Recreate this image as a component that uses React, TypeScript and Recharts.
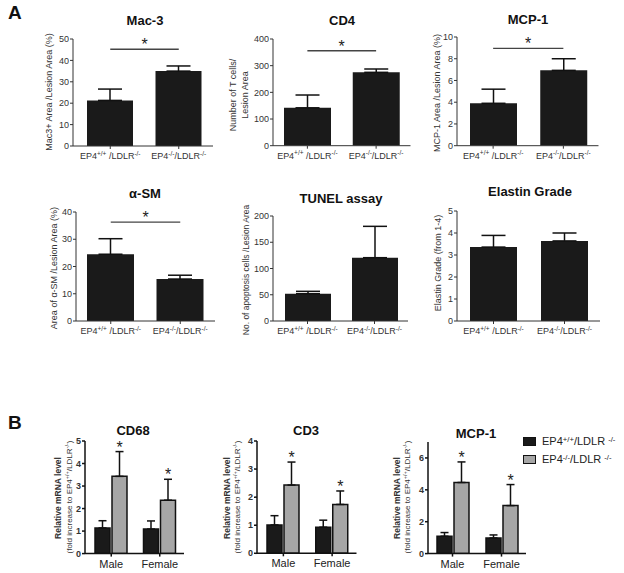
import React from 'react';
import { BarChart, Bar, XAxis, YAxis, ErrorBar, ReferenceLine, LabelList } from 'recharts';

const FONT = '"Liberation Sans", Arial, Helvetica, sans-serif';

// ---------- Panel A data ----------
const genotypes = ['EP4+/+ /LDLR-/-', 'EP4-/-/LDLR-/-'];
const genoSup1 = ['+/+', '-/-'];
const genoMid = [' /LDLR', '/LDLR'];
const genoSup2 = ['-/-', '-/-'];

const mac3Mean = [21.3, 35.0];
const mac3Err = [5.3, 2.4];
const cd4Mean = [142, 275];
const cd4Err = [48, 12.5];
const mcp1Mean = [3.9, 6.93];
const mcp1Err = [1.3, 1.07];
const asmMean = [24.5, 15.4];
const asmErr = [5.7, 1.4];
const tunelMean = [52, 120.6];
const tunelErr = [4.5, 59.7];
const elastinMean = [3.36, 3.64];
const elastinErr = [0.53, 0.36];

// ---------- Panel B data ----------
const sexes = ['Male', 'Female'];
const cd68WT = [1.14, 1.09];
const cd68WTErr = [0.32, 0.36];
const cd68KO = [3.43, 2.37];
const cd68KOErr = [1.1, 0.93];
const cd3WT = [1.01, 0.93];
const cd3WTErr = [0.33, 0.25];
const cd3KO = [2.43, 1.74];
const cd3KOErr = [0.82, 0.48];
const mcpWT = [1.09, 0.98];
const mcpWTErr = [0.23, 0.19];
const mcpKO = [4.46, 3.01];
const mcpKOErr = [1.29, 1.32];

const buildA = (mean: number[], err: number[]) =>
  genotypes.map((g, i) => ({ name: g, mean: mean[i], err: [0, err[i]] }));

const buildB = (wt: number[], wtErr: number[], ko: number[], koErr: number[]) =>
  sexes.map((s, i) => ({ name: s, wt: wt[i], wtErr: [0, wtErr[i]], ko: ko[i], koErr: [0, koErr[i]] }));

const GenoTick = (props: any) => {
  const { x, y, payload } = props;
  const i = genotypes.indexOf(payload.value);
  return (
    <text x={x} y={y + 8} textAnchor="middle" fontSize={9} fill="#333" fontFamily={FONT}>
      <tspan>EP4</tspan>
      <tspan dy={-3.5} fontSize={6.5}>{genoSup1[i]}</tspan>
      <tspan dy={3.5}>{genoMid[i]}</tspan>
      <tspan dy={-3.5} fontSize={6.5}>{genoSup2[i]}</tspan>
    </text>
  );
};

const SexTick = (props: any) => {
  const { x, y, payload } = props;
  return (
    <text x={x} y={y + 9} textAnchor="middle" fontSize={11} fill="#222" fontFamily={FONT}>
      {payload.value}
    </text>
  );
};

const SigStar = (props: any) => {
  const vb = props.viewBox || {};
  return (
    <text x={vb.x + (vb.width || 0) / 2} y={vb.y + 1} textAnchor="middle" fontSize={16} fill="#222" fontFamily={FONT}>
      *
    </text>
  );
};

const makeBarStar = (means: number[], errs: number[]) => (props: any) => {
  const vb = props.viewBox && props.viewBox.width !== undefined ? props.viewBox : props;
  const { x, y, width, height } = vb;
  let i = props.index;
  if (i === undefined) i = means.indexOf(props.value);
  if (i < 0 || i === undefined) return null;
  const px = height / means[i];
  const capY = y - errs[i] * px;
  return (
    <text key={'s' + i} x={x + width / 2} y={capY + 1} textAnchor="middle" fontSize={16} fill="#222" fontFamily={FONT}>
      *
    </text>
  );
};

type Series = { key: string; errKey: string; fill: string; stroke?: string; star?: (p: any) => any };

type PanelDef = {
  x0: number; x1: number; top: number; bottom: number; padLeft: number;
  data: any[]; domain: [number, number]; ticks: number[];
  series: Series[]; barSize: number; barGap?: number; errW: number;
  tick: (p: any) => any; bold?: boolean; axisW: number; sigY?: number;
};

const YW = 40;
const MT = 10;
const MR = 6;
const XH = 24;

function Panel(p: PanelDef) {
  const W = p.x1 - p.x0 + YW + MR;
  const H = p.bottom - p.top + MT + XH;
  const axisStroke = p.bold ? '#111' : '#333';
  return (
    <div style={{ position: 'absolute', left: p.x0 - YW, top: p.top - MT, width: W, height: H }}>
      <BarChart width={W} height={H} data={p.data} margin={{ top: MT, right: MR, bottom: 0, left: 0 }} barGap={p.barGap ?? 4}>
        <XAxis
          dataKey="name"
          height={XH}
          tick={p.tick}
          tickSize={3}
          interval={0}
          padding={{ left: p.padLeft, right: 0 }}
          axisLine={{ stroke: axisStroke, strokeWidth: p.axisW }}
          tickLine={{ stroke: axisStroke, strokeWidth: p.axisW }}
        />
        <YAxis
          width={YW}
          type="number"
          domain={p.domain}
          ticks={p.ticks}
          interval={0}
          allowDataOverflow
          tickSize={3}
          tickMargin={1}
          tick={{ fontSize: 9, fill: '#333', fontWeight: p.bold ? 'bold' : 'normal', fontFamily: FONT }}
          axisLine={{ stroke: axisStroke, strokeWidth: p.axisW }}
          tickLine={{ stroke: axisStroke, strokeWidth: p.axisW }}
        />
        {p.series.map((s) => (
          <Bar
            key={s.key}
            dataKey={s.key}
            fill={s.fill}
            stroke={s.stroke}
            strokeWidth={s.stroke ? 1.5 : 0}
            barSize={p.barSize}
            isAnimationActive={false}
          >
            <ErrorBar dataKey={s.errKey} width={p.errW} stroke="#111" strokeWidth={1.5} direction="y" />
            {s.star ? <LabelList dataKey={s.key} content={s.star} /> : null}
          </Bar>
        ))}
        {p.sigY !== undefined ? (
          <ReferenceLine
            segment={[{ x: genotypes[0], y: p.sigY }, { x: genotypes[1], y: p.sigY }]}
            stroke="#444"
            strokeWidth={1.3}
            label={<SigStar />}
          />
        ) : null}
      </BarChart>
    </div>
  );
}

const Title = ({ x, y, text }: { x: number; y: number; text: string }) => (
  <div style={{ position: 'absolute', left: x, top: y, transform: 'translate(-50%,-50%)', fontSize: 13, fontWeight: 'bold', color: '#111', whiteSpace: 'nowrap', fontFamily: FONT }}>
    {text}
  </div>
);

const VLabel = ({ x, y, size, bold, children }: { x: number; y: number; size: number; bold?: boolean; children: any }) => (
  <div style={{ position: 'absolute', left: x, top: y, transform: 'translate(-50%,-50%) rotate(-90deg)', fontSize: size, fontWeight: bold ? 'bold' : 'normal', color: '#333', whiteSpace: 'nowrap', fontFamily: FONT, lineHeight: 1 }}>
    {children}
  </div>
);

const Sup = ({ children }: { children: any }) => (
  <span style={{ fontSize: '0.7em', position: 'relative', top: '-0.45em' }}>{children}</span>
);

const blackSeries = (star?: any): Series[] => [{ key: 'mean', errKey: 'err', fill: '#1a1a1a' }];

const bSeries = (means: number[], errs: number[]): Series[] => [
  { key: 'wt', errKey: 'wtErr', fill: '#1a1a1a', stroke: '#111' },
  { key: 'ko', errKey: 'koErr', fill: '#a6a6a6', stroke: '#111', star: makeBarStar(means, errs) },
];

export default function App() {
  const FoldLabel = () => (
    <span>
      (fold increase to EP4<Sup>+/+</Sup>/LDLR<Sup>-/-</Sup>)
    </span>
  );
  return (
    <div style={{ position: 'absolute', left: 0, top: 0, width: 624, height: 573, overflow: 'hidden', background: '#fff', fontFamily: FONT }}>
      <div style={{ position: 'absolute', left: 8, top: 2, fontSize: 19, fontWeight: 'bold', color: '#111' }}>A</div>
      <div style={{ position: 'absolute', left: 8, top: 412, fontSize: 19, fontWeight: 'bold', color: '#111' }}>B</div>

      {/* Row 1 */}
      <Title x={145} y={20} text="Mac-3" />
      <Title x={342} y={20} text="CD4" />
      <Title x={528} y={18.5} text="MCP-1" />
      <VLabel x={49.3} y={91.7} size={9}>Mac3+ Area /Lesion Area (%)</VLabel>
      <VLabel x={233.3} y={95} size={9}>Number of T cells/</VLabel>
      <VLabel x={244.5} y={95} size={9}>Lesion Area</VLabel>
      <VLabel x={436.7} y={93} size={9}>MCP-1 Area /Lesion Area (%)</VLabel>

      <Panel x0={73} x1={213} top={38.7} bottom={145.7} padLeft={3} data={buildA(mac3Mean, mac3Err)} domain={[0, 50]} ticks={[0, 10, 20, 30, 40, 50]} series={blackSeries()} barSize={46} errW={12} tick={GenoTick} axisW={1} sigY={45.2} />
      <Panel x0={273} x1={410.5} top={39} bottom={145.7} padLeft={0} data={buildA(cd4Mean, cd4Err)} domain={[0, 400]} ticks={[0, 100, 200, 300, 400]} series={blackSeries()} barSize={47} errW={12} tick={GenoTick} axisW={1} sigY={356} />
      <Panel x0={457} x1={598.5} top={37} bottom={145.7} padLeft={1} data={buildA(mcp1Mean, mcp1Err)} domain={[0, 10]} ticks={[0, 2, 4, 6, 8, 10]} series={blackSeries()} barSize={47} errW={12} tick={GenoTick} axisW={1} sigY={8.96} />

      {/* Row 2 */}
      <Title x={145} y={193.3} text="α-SM" />
      <Title x={341} y={198.3} text="TUNEL assay" />
      <Title x={530} y={191} text="Elastin Grade" />
      <VLabel x={54.3} y={267.5} size={9}>Area of α-SM /Lesion Area (%)</VLabel>
      <VLabel x={245.7} y={270} size={8.5}>No. of apoptosis cells /Lesion Area</VLabel>
      <VLabel x={438.3} y={262.5} size={9}>Elastin Grade (from 1-4)</VLabel>

      <Panel x0={76} x1={215} top={211.7} bottom={320.7} padLeft={0} data={buildA(asmMean, asmErr)} domain={[0, 40]} ticks={[0, 10, 20, 30, 40]} series={blackSeries()} barSize={47} errW={12} tick={GenoTick} axisW={1} sigY={36.3} />
      <Panel x0={273} x1={408} top={215.7} bottom={320.7} padLeft={1} data={buildA(tunelMean, tunelErr)} domain={[0, 200]} ticks={[0, 50, 100, 150, 200]} series={blackSeries()} barSize={46} errW={12} tick={GenoTick} axisW={1} />
      <Panel x0={457} x1={600} top={210.7} bottom={320.7} padLeft={1} data={buildA(elastinMean, elastinErr)} domain={[0, 5]} ticks={[0, 1, 2, 3, 4, 5]} series={blackSeries()} barSize={47} errW={12} tick={GenoTick} axisW={1} />

      {/* Panel B */}
      <Title x={133} y={430} text="CD68" />
      <Title x={306} y={430} text="CD3" />
      <Title x={476} y={433} text="MCP-1" />

      <VLabel x={58.3} y={497.5} size={8.5} bold>Relative mRNA level</VLabel>
      <VLabel x={70} y={497} size={8}><FoldLabel /></VLabel>
      <VLabel x={226.7} y={497.5} size={8.5} bold>Relative mRNA level</VLabel>
      <VLabel x={238.3} y={497} size={8}><FoldLabel /></VLabel>
      <VLabel x={396.7} y={497.5} size={8.5} bold>Relative mRNA level</VLabel>
      <VLabel x={407.5} y={497} size={8}><FoldLabel /></VLabel>

      <Panel x0={85} x1={184} top={440.7} bottom={553.3} padLeft={2} data={buildB(cd68WT, cd68WTErr, cd68KO, cd68KOErr)} domain={[0, 5]} ticks={[0, 1, 2, 3, 4, 5]} series={bSeries(cd68KO, cd68KOErr)} barSize={15} barGap={2} errW={4} tick={SexTick} bold axisW={1.5} />
      <Panel x0={257} x1={356.5} top={441} bottom={553.3} padLeft={2} data={buildB(cd3WT, cd3WTErr, cd3KO, cd3KOErr)} domain={[0, 4]} ticks={[0, 1, 2, 3, 4]} series={bSeries(cd3KO, cd3KOErr)} barSize={15} barGap={2} errW={4} tick={SexTick} bold axisW={1.5} />
      <Panel x0={428} x1={526} top={441.7} bottom={553.3} padLeft={0} data={buildB(mcpWT, mcpWTErr, mcpKO, mcpKOErr)} domain={[0, 7]} ticks={[0, 2, 4, 6]} series={bSeries(mcpKO, mcpKOErr)} barSize={15} barGap={2} errW={4} tick={SexTick} bold axisW={1.5} />

      {/* Legend */}
      <div style={{ position: 'absolute', left: 523, top: 436.5, width: 13, height: 9, background: '#1a1a1a', border: '1px solid #111', boxSizing: 'border-box' }} />
      <div style={{ position: 'absolute', left: 542, top: 441, transform: 'translateY(-50%)', fontSize: 11, color: '#222', whiteSpace: 'nowrap' }}>
        EP4<Sup>+/+</Sup>/LDLR <Sup>-/-</Sup>
      </div>
      <div style={{ position: 'absolute', left: 523, top: 454.5, width: 13, height: 9, background: '#a6a6a6', border: '1px solid #111', boxSizing: 'border-box' }} />
      <div style={{ position: 'absolute', left: 542, top: 459, transform: 'translateY(-50%)', fontSize: 11, color: '#222', whiteSpace: 'nowrap' }}>
        EP4<Sup>-/-</Sup>/LDLR <Sup>-/-</Sup>
      </div>
    </div>
  );
}
